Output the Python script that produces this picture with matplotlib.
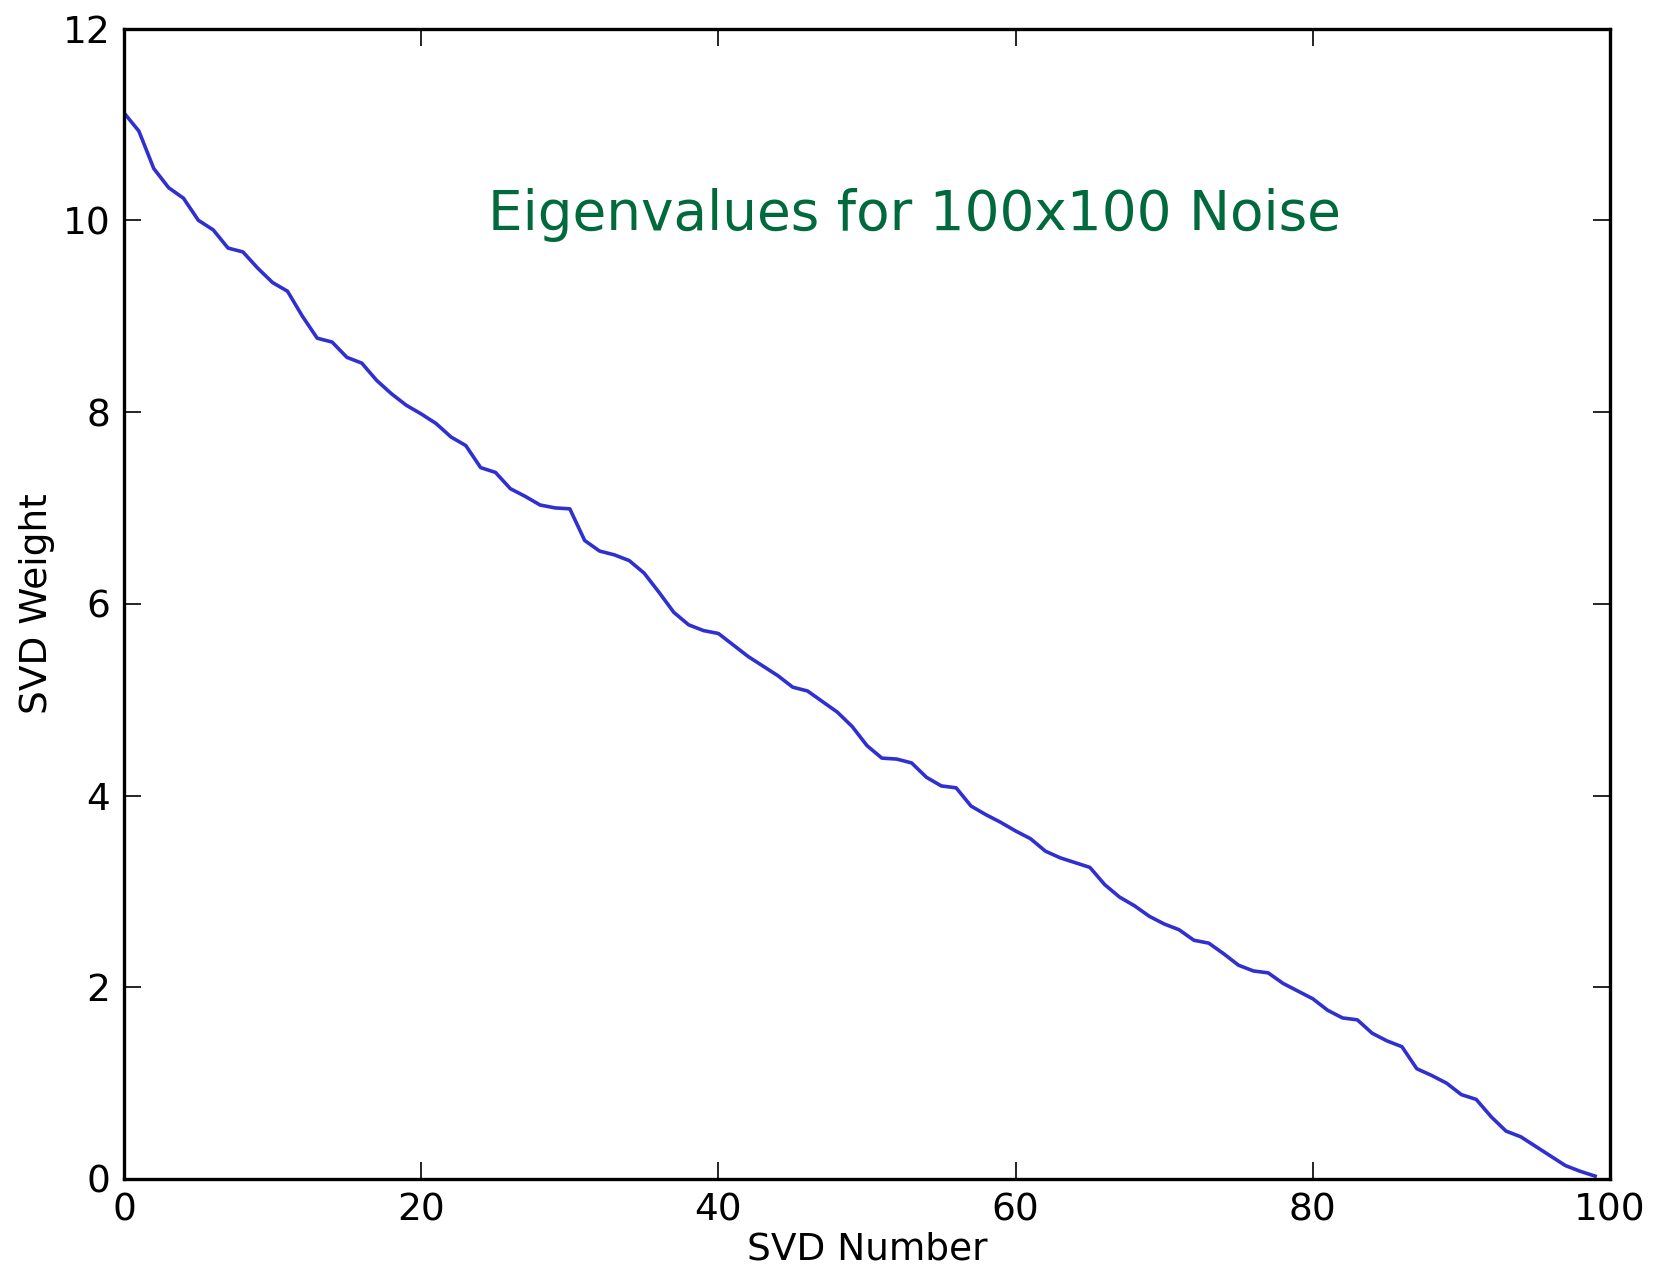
import numpy as np
import matplotlib
matplotlib.use('Agg')
import matplotlib.pyplot as plt

# SVD weights, index 0..99
svd_number = np.arange(100)
svd_weight = [11.12, 10.93, 10.54, 10.34, 10.23, 10.00, 9.90, 9.71, 9.67, 9.50,
              9.35, 9.26, 9.00, 8.77, 8.73, 8.57, 8.51, 8.33, 8.19, 8.07,
              7.98, 7.88, 7.74, 7.65, 7.42, 7.37, 7.20, 7.12, 7.03, 7.00,
              6.99, 6.66, 6.55, 6.51, 6.45, 6.32, 6.12, 5.91, 5.78, 5.72,
              5.69, 5.57, 5.45, 5.35, 5.25, 5.13, 5.09, 4.98, 4.87, 4.72,
              4.52, 4.39, 4.38, 4.34, 4.19, 4.10, 4.08, 3.89, 3.80, 3.72,
              3.63, 3.55, 3.42, 3.35, 3.30, 3.25, 3.07, 2.94, 2.85, 2.74,
              2.66, 2.60, 2.49, 2.46, 2.35, 2.23, 2.17, 2.15, 2.04, 1.96,
              1.88, 1.76, 1.68, 1.66, 1.52, 1.44, 1.38, 1.15, 1.08, 1.00,
              0.88, 0.83, 0.65, 0.50, 0.44, 0.34, 0.24, 0.14, 0.08, 0.03]

label = 'Eigenvalues for 100x100 Noise'

fig = plt.figure(figsize=(16.56, 12.68), dpi=100)
ax = fig.add_axes([0.0749, 0.0702, 0.8973, 0.9073])
ax.plot(svd_number, svd_weight, color='#3030d0', lw=2.6)

ax.set_xlim(0, 100)
ax.set_ylim(0, 12)
ax.set_xticks(range(0, 101, 20))
ax.set_yticks(range(0, 13, 2))
ax.tick_params(direction='in', length=12, width=1.2, labelsize=27,
               top=True, right=True, pad=10)
for s in ax.spines.values():
    s.set_linewidth(2.4)

ax.set_xlabel('SVD Number', fontsize=27, labelpad=2)
ax.set_ylabel('SVD Weight', fontsize=27, labelpad=5)

ax.text(24.5, 9.9, label, color='#006a3d', fontsize=39.5,
        family='DejaVu Sans', ha='left', va='baseline')

plt.savefig('out.png', dpi=100)
